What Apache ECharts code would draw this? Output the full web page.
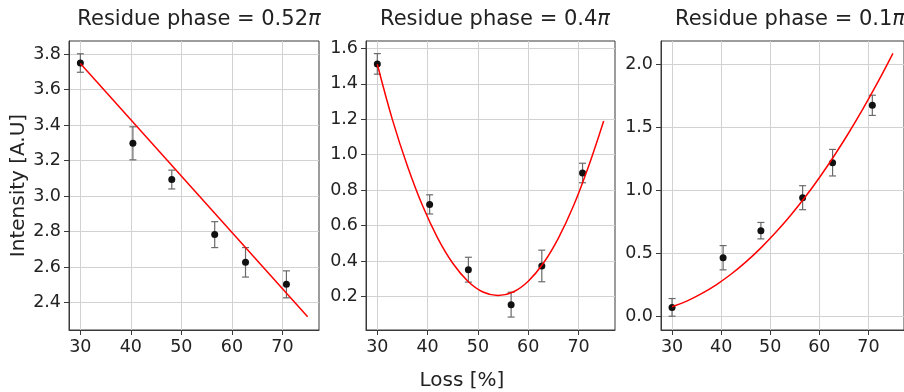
<!DOCTYPE html>
<html>
<head>
<meta charset="utf-8">
<script src="https://cdn.jsdelivr.net/npm/echarts@6/dist/echarts.min.js"></script>
<style>
  html, body { margin: 0; padding: 0; background: #fff; }
  #chart { width: 904px; height: 392px; }
</style>
</head>
<body>
<div id="chart"></div>
<script>
// measured points (same loss values in all three panels)
const loss = [30, 40.4, 48.1, 56.6, 62.7, 70.8];
const phases = ['0.52', '0.4', '0.1'];

const intensity1 = [3.749, 3.297, 3.093, 2.783, 2.627, 2.503];
const error1 = [0.052, 0.093, 0.053, 0.073, 0.083, 0.076];
const intensity2 = [1.512, 0.720, 0.352, 0.155, 0.373, 0.897];
const error2 = [0.058, 0.054, 0.070, 0.070, 0.089, 0.055];
const intensity3 = [0.074, 0.467, 0.681, 0.942, 1.219, 1.673];
const error3 = [0.070, 0.096, 0.065, 0.095, 0.105, 0.080];

// fitted curves
const fitLoss1 = [30, 75];
const fitValues1 = [3.747, 2.321];
const fitLoss = [30, 33, 36, 39, 42, 45, 48, 51, 54, 57, 60, 63, 66, 69, 72, 75];
const fitValues2 = [1.510, 1.198, 0.935, 0.712, 0.530, 0.388, 0.287, 0.226, 0.206, 0.226, 0.287, 0.388, 0.530, 0.712, 0.935, 1.190];
const fitValues3 = [0.079, 0.124, 0.183, 0.253, 0.336, 0.432, 0.541, 0.662, 0.795, 0.941, 1.100, 1.272, 1.456, 1.653, 1.862, 2.084];

// tick labels
const xTicks = [30, 40, 50, 60, 70];
const yTicks1 = [2.4, 2.6, 2.8, 3.0, 3.2, 3.4, 3.6, 3.8];
const yTicks2 = [0.2, 0.4, 0.6, 0.8, 1.0, 1.2, 1.4, 1.6];
const yTicks3 = [0.0, 0.5, 1.0, 1.5, 2.0];

const yRanges = [[2.246, 3.873], [0.012, 1.641], [-0.105, 2.182]];
const xRange = [27.75, 77.25];

const FONT = 'DejaVu Sans';
const TEXT = '#222';
const EDGE = '#3a3a3a';
const GRIDLINE = '#d2d2d2';

const panels = [
  { left: 69, width: 250, ys: intensity1, errs: error1, fx: fitLoss1, fy: fitValues1, yTicks: yTicks1 },
  { left: 366, width: 249, ys: intensity2, errs: error2, fx: fitLoss, fy: fitValues2, yTicks: yTicks2 },
  { left: 661, width: 250, ys: intensity3, errs: error3, fx: fitLoss, fy: fitValues3, yTicks: yTicks3 },
];

const chart = echarts.init(document.getElementById('chart'), null, { renderer: 'canvas' });

const grid = panels.map(p => ({
  left: p.left, top: 41, width: p.width, height: 289,
  show: true, borderColor: EDGE, borderWidth: 1, backgroundColor: 'transparent',
}));

const xAxis = panels.map((p, i) => ({
  type: 'value', gridIndex: i, min: xRange[0], max: xRange[1],
  axisLine: { show: true, onZero: false, lineStyle: { color: EDGE, width: 1 } },
  axisTick: { show: true, length: 5, customValues: xTicks, lineStyle: { color: EDGE } },
  axisLabel: { customValues: xTicks, fontFamily: FONT, fontSize: 17.5, color: TEXT, margin: 8 },
  splitLine: { show: true, lineStyle: { color: GRIDLINE, width: 1 } },
}));

const yAxis = panels.map((p, i) => ({
  type: 'value', gridIndex: i, min: yRanges[i][0], max: yRanges[i][1],
  name: i === 0 ? 'Intensity [A.U]' : '',
  nameLocation: 'middle', nameGap: 40,
  nameTextStyle: { fontFamily: FONT, fontSize: 20, color: TEXT },
  axisLine: { show: true, onZero: false, lineStyle: { color: EDGE, width: 1 } },
  axisTick: { show: true, length: 5, customValues: p.yTicks, lineStyle: { color: EDGE } },
  axisLabel: {
    customValues: p.yTicks, fontFamily: FONT, fontSize: 17.5, color: TEXT, margin: 8,
    formatter: v => v.toFixed(1),
  },
  splitLine: { show: true, lineStyle: { color: GRIDLINE, width: 1 } },
}));

function errorBars(i, p) {
  return {
    type: 'custom', xAxisIndex: i, yAxisIndex: i, z: 3, silent: true,
    encode: { x: 0, y: [1, 2] },
    data: loss.map((x, k) => [x, p.ys[k] - p.errs[k], p.ys[k] + p.errs[k]]),
    renderItem: (params, api) => {
      const lo = api.coord([api.value(0), api.value(1)]);
      const hi = api.coord([api.value(0), api.value(2)]);
      const c = 3.5;
      const style = { stroke: '#6a6a6a', lineWidth: 1.2 };
      return {
        type: 'group',
        children: [
          { type: 'line', shape: { x1: lo[0], y1: lo[1], x2: hi[0], y2: hi[1] }, style },
          { type: 'line', shape: { x1: lo[0] - c, y1: lo[1], x2: lo[0] + c, y2: lo[1] }, style },
          { type: 'line', shape: { x1: hi[0] - c, y1: hi[1], x2: hi[0] + c, y2: hi[1] }, style },
        ],
      };
    },
  };
}

const series = [];
panels.forEach((p, i) => {
  series.push(errorBars(i, p));
  series.push({
    type: 'scatter', xAxisIndex: i, yAxisIndex: i, z: 4, silent: true,
    symbolSize: 7, itemStyle: { color: '#111', opacity: 1 },
    data: loss.map((x, k) => [x, p.ys[k]]),
  });
  series.push({
    type: 'line', xAxisIndex: i, yAxisIndex: i, z: 5, silent: true,
    showSymbol: false, symbol: 'none', smooth: p.fx.length > 2 ? 0.4 : false,
    lineStyle: { color: '#ff0000', width: 1.5 },
    data: p.fx.map((x, k) => [x, p.fy[k]]),
  });
});

const centers = [194, 490, 785];
const title = phases.map((ph, i) => ({
  text: '{t|Residue phase = ' + ph + '}{pi|π}',
  left: centers[i], top: 4, textAlign: 'center',
  textStyle: {
    fontWeight: 'normal',
    rich: {
      t: { fontFamily: FONT, fontSize: 21, fontWeight: 'normal', color: TEXT },
      pi: { fontFamily: FONT, fontSize: 21, fontWeight: 'normal', color: TEXT, fontStyle: 'italic' },
    },
  },
}));
title.push({
  text: 'Loss [%]', left: 457, top: 366, textAlign: 'center',
  textStyle: { fontFamily: FONT, fontSize: 20, fontWeight: 'normal', color: TEXT },
});

chart.setOption({
  animation: false,
  backgroundColor: '#fff',
  title,
  grid,
  xAxis,
  yAxis,
  series,
});
</script>
</body>
</html>
